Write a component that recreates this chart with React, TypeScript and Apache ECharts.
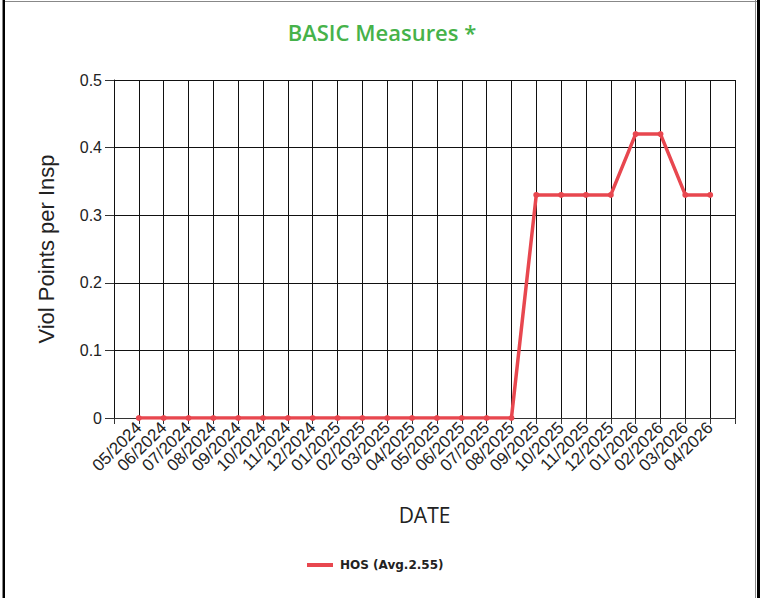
import React, { useEffect, useRef } from "react";
import * as echarts from "echarts";

const categories: string[] = [
  "05/2024", "06/2024", "07/2024", "08/2024", "09/2024", "10/2024", "11/2024", "12/2024",
  "01/2025", "02/2025", "03/2025", "04/2025", "05/2025", "06/2025", "07/2025", "08/2025",
  "09/2025", "10/2025", "11/2025", "12/2025", "01/2026", "02/2026", "03/2026", "04/2026",
];
const hosValues: number[] = [
  0, 0, 0, 0, 0, 0, 0, 0,
  0, 0, 0, 0, 0, 0, 0, 0,
  0.33, 0.33, 0.33, 0.33, 0.42, 0.42, 0.33, 0.33,
];
const seriesName = "HOS (Avg.2.55)";
const titleText = "BASIC Measures *";
const yAxisName = "Viol Points per Insp";
const xAxisName = "DATE";

export default function App() {
  const ref = useRef<HTMLDivElement>(null);
  useEffect(() => {
    document.body.style.margin = "0";
    if (!ref.current) return;
    const chart = echarts.init(ref.current, undefined, { renderer: "svg" });
    const axisCats = ["", ...categories, ""];
    chart.setOption({
      animation: false,
      backgroundColor: "#fff",
      title: {
        text: titleText,
        left: "center",
        top: 21,
        padding: 0,
        textStyle: {
          fontFamily: "Open Sans",
          fontWeight: 600,
          fontSize: 22,
          color: "#46b24a",
        },
      },
      legend: {
        data: [{ name: seriesName, icon: "rect" }],
        left: 307,
        top: 559,
        padding: 0,
        itemWidth: 26,
        itemHeight: 4,
        itemGap: 5,
        textStyle: {
          fontFamily: "DejaVu Sans",
          fontWeight: "bold",
          fontSize: 12,
          color: "#222",
          padding: [0, 0, 0, 2],
        },
      },
      grid: { left: 114, right: 29, top: 80, bottom: 180, containLabel: false },
      xAxis: {
        type: "category",
        data: axisCats,
        boundaryGap: false,
        name: xAxisName,
        nameLocation: "middle",
        nameGap: 86,
        nameTextStyle: { fontFamily: "Open Sans", fontSize: 21, color: "#222" },
        axisLine: { show: true, lineStyle: { color: "#333", width: 1 } },
        axisTick: { show: true, length: 6, lineStyle: { color: "#333" }, interval: 0 },
        axisLabel: {
          interval: 0,
          rotate: 45,
          margin: 7,
          fontFamily: "Liberation Sans",
          fontSize: 17,
          color: "#222",
        },
        splitLine: { show: true, interval: 0, lineStyle: { color: "#111", width: 1 } },
      },
      yAxis: {
        type: "value",
        min: 0,
        max: 0.5,
        interval: 0.1,
        name: yAxisName,
        nameLocation: "middle",
        nameGap: 57,
        nameTextStyle: { fontFamily: "Liberation Sans", fontSize: 22, color: "#222" },
        axisLine: { show: true, lineStyle: { color: "#111" } },
        axisTick: { show: true, length: 9, lineStyle: { color: "#333" } },
        axisLabel: {
          margin: 12,
          fontFamily: "Liberation Sans",
          fontSize: 16,
          color: "#222",
          formatter: (v: number) => (v === 0 ? "0" : String(Math.round(v * 10) / 10)),
        },
        splitLine: { show: true, lineStyle: { color: "#111", width: 1 } },
      },
      series: [
        {
          name: seriesName,
          type: "line",
          data: categories.map((c, i) => [c, hosValues[i]]),
          symbol: "circle",
          symbolSize: 6,
          showSymbol: true,
          lineStyle: { color: "#e8474f", width: 3.5 },
          itemStyle: { color: "#e8474f" },
        },
      ],
      graphic: [
        { type: "rect", shape: { x: 3, y: 1, width: 755, height: 1 }, style: { fill: "#888" }, silent: true },
        { type: "rect", shape: { x: 2, y: 0, width: 1, height: 598 }, style: { fill: "#888" }, silent: true },
        { type: "rect", shape: { x: 3, y: 0, width: 2, height: 598 }, style: { fill: "#000" }, silent: true },
        { type: "rect", shape: { x: 755, y: 0, width: 1, height: 598 }, style: { fill: "#888" }, silent: true },
        { type: "rect", shape: { x: 757, y: 0, width: 3, height: 598 }, style: { fill: "#000" }, silent: true },
      ],
    });
    return () => chart.dispose();
  }, []);
  return (
    <div
      ref={ref}
      style={{ position: "absolute", left: 0, top: 0, width: 764, height: 598 }}
    />
  );
}
